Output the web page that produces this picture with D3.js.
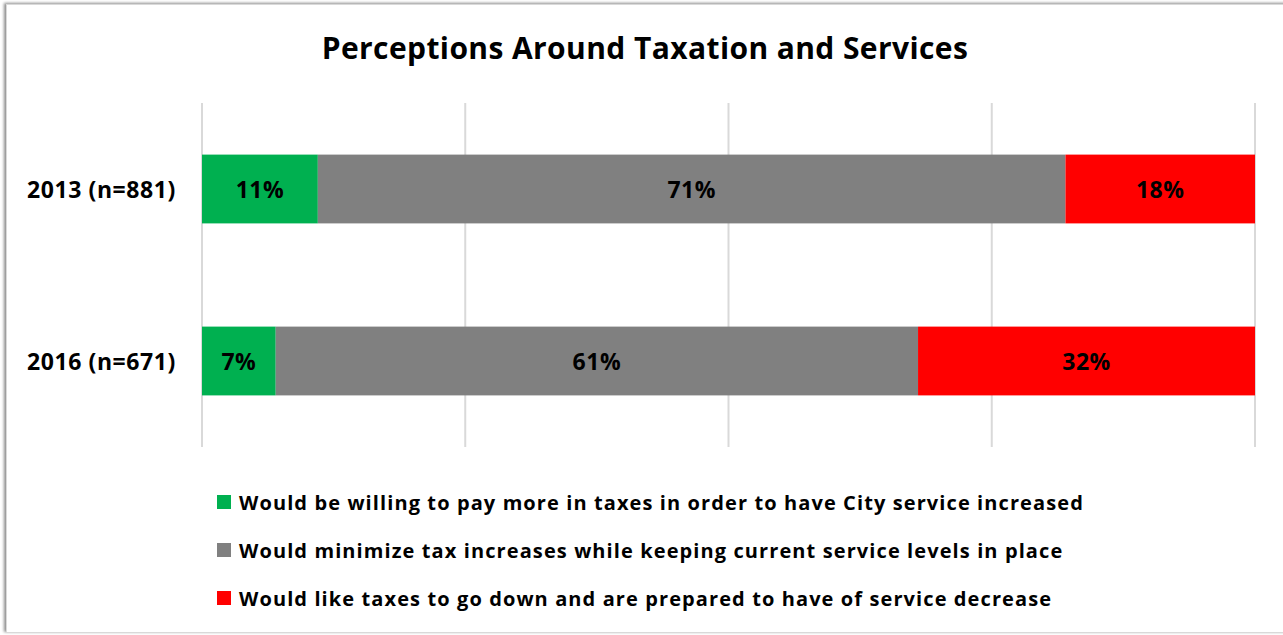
<!DOCTYPE html>
<html><head><meta charset="utf-8">
<script src="https://cdn.jsdelivr.net/npm/d3@7"></script>
<style>
html,body{margin:0;padding:0;background:#fff;}
svg{display:block;}
text{font-family:"Open Sans",Lato,sans-serif;font-weight:bold;}
</style></head>
<body>
<svg id="chart" width="1283" height="635"></svg>
<script>
const categories = ["2013 (n=881)", "2016 (n=671)"];
const seriesNames = [
  "Would be willing to pay more in taxes in order to have City service increased",
  "Would minimize tax increases while keeping current service levels in place",
  "Would like taxes to go down and are prepared to have of service decrease"
];
const willing = [11, 7];
const minimize = [71, 61];
const decrease = [18, 32];
const colors = ["#00B050", "#808080", "#FF0000"];
const xTicks = [0, 25, 50, 75, 100];
const title = "Perceptions Around Taxation and Services";

const svg = d3.select("#chart");
const W = 1283, H = 635;

const defs = svg.append("defs");
const f = defs.append("filter").attr("id","sh").attr("x","-5%").attr("y","-5%").attr("width","110%").attr("height","110%");
f.append("feGaussianBlur").attr("in","SourceAlpha").attr("stdDeviation",1.5);
f.append("feOffset").attr("dx",-2).attr("dy",-1).attr("result","o");
f.append("feComponentTransfer").append("feFuncA").attr("type","linear").attr("slope",0.45);
const m = f.append("feMerge"); m.append("feMergeNode"); m.append("feMergeNode").attr("in","SourceGraphic");
svg.append("rect").attr("x",6.5).attr("y",4.5).attr("width",W+10).attr("height",628)
  .attr("fill","#fff").attr("stroke","#d9d9d9").attr("filter","url(#sh)");

const margin = {left:202, right:28, top:103, bottom:188};
const x = d3.scaleLinear().domain([0,100]).range([margin.left, W - margin.right]);
const y = d3.scaleBand().domain(categories).range([margin.top, H - margin.bottom]).paddingInner(0.6).paddingOuter(0.3);

svg.append("g").selectAll("line").data(xTicks).join("line")
  .attr("x1", d=>x(d)).attr("x2", d=>x(d))
  .attr("y1", margin.top).attr("y2", H - margin.bottom)
  .attr("stroke","#d9d9d9").attr("stroke-width",2);

const rows = categories.map((c,i)=>({cat:c, v:[willing[i], minimize[i], decrease[i]]}));
const keys = [0,1,2];
const stacked = d3.stack().keys(keys).value((d,k)=>d.v[k])(rows);

const g = svg.append("g");
stacked.forEach((layer, k)=>{
  g.append("g").selectAll("rect").data(layer).join("rect")
    .attr("x", d=>x(d[0])).attr("width", d=>x(d[1])-x(d[0]))
    .attr("y", d=>y(d.data.cat)).attr("height", y.bandwidth())
    .attr("fill", colors[k]);
  g.append("g").selectAll("text").data(layer).join("text")
    .attr("x", d=>(x(d[0])+x(d[1]))/2).attr("y", d=>y(d.data.cat)+y.bandwidth()/2)
    .attr("text-anchor","middle").attr("dominant-baseline","central")
    .attr("font-size",23).attr("letter-spacing","0.5px").attr("fill","#000")
    .text(d=>d.data.v[k]+"%");
});

svg.append("g").selectAll("text").data(categories).join("text")
  .attr("x", 176).attr("y", d=>y(d)+y.bandwidth()/2)
  .attr("text-anchor","end").attr("dominant-baseline","central")
  .attr("font-size",23).attr("letter-spacing","0.6px").attr("fill","#000").text(d=>d);

svg.append("text").attr("x",645).attr("y",47).attr("text-anchor","middle")
  .attr("dominant-baseline","central").attr("font-size",30).attr("letter-spacing","0.4px").attr("fill","#000").text(title);

const leg = svg.append("g").selectAll("g").data(seriesNames).join("g")
  .attr("transform",(d,i)=>`translate(217,${502 + i*48})`);
leg.append("rect").attr("x",0).attr("y",-7).attr("width",14).attr("height",14).attr("fill",(d,i)=>colors[i]);
leg.append("text").attr("x",22).attr("y",0).attr("dominant-baseline","central")
  .attr("font-size",20).attr("letter-spacing","1.1px").attr("fill","#000").text(d=>d);
</script>
</body></html>
